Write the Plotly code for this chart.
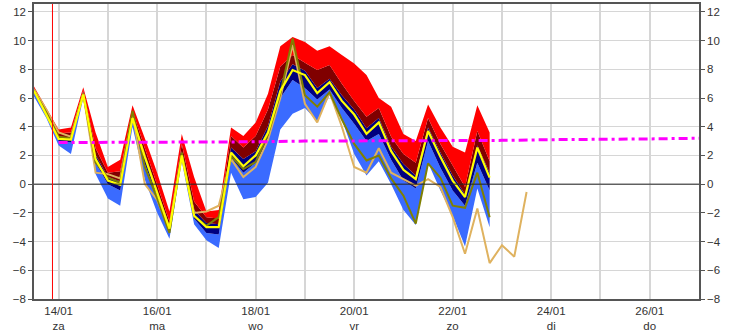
import pandas as pd
import plotly.graph_objects as go

# 6-hourly ensemble time axis (starts 13/01 12:00)
start = "2017-01-13 12:00"
n_main = 38
n_oper = 41
times = pd.date_range(start, periods=n_oper, freq="6h")
t_main = times[:n_main]

# ensemble band boundaries (top -> bottom)
top = [6.8, 5.3, 3.8, 3.95, 6.75, 3.6, 1.2, 1.7, 5.5, 3.2, 0.8, -1.9, 3.5, 0.5, -1.9, -1.8,
       3.95, 3.35, 4.3, 6.3, 9.6, 10.25, 9.9, 9.3, 9.6, 9.0, 8.4, 7.6, 6.0, 5.4, 3.5, 3.0,
       5.55, 3.95, 2.6, 2.2, 5.5, 3.6]
b1 = [6.7, 5.1, 3.55, 3.6, 6.55, 2.5, 0.8, 0.9, 5.1, 2.5, 0.0, -2.6, 2.8, -1.2, -2.3, -2.4,
      3.35, 2.55, 3.35, 5.2, 8.2, 9.0, 8.45, 7.95, 8.3, 7.0, 5.8, 4.7, 5.3, 3.3, 2.1, 1.5,
      4.6, 2.8, 1.3, -0.2, 3.7, 1.6]
b2 = [6.6, 4.95, 3.3, 3.25, 6.4, 2.05, 0.5, 0.2, 4.8, 2.1, -0.4, -2.9, 2.3, -1.8, -2.7, -2.8,
      2.55, 1.75, 2.3, 4.05, 7.15, 8.35, 7.9, 6.7, 7.35, 6.2, 5.2, 3.9, 4.6, 2.6, 1.4, 0.6,
      3.95, 2.2, 0.6, -0.7, 2.7, 0.8]
b3 = [6.4, 4.8, 3.0, 2.9, 6.15, 1.5, 0.0, -0.45, 4.4, 1.4, -0.9, -3.4, 1.9, -2.4, -3.4, -3.5,
      1.85, 0.8, 1.5, 3.0, 6.0, 7.25, 6.7, 5.9, 6.6, 5.3, 4.2, 3.0, 3.5, 1.7, 0.25, -0.3,
      3.0, 1.15, -0.45, -1.5, 1.5, -0.45]
bottom = [6.1, 4.6, 2.7, 2.1, 6.0, 0.7, -1.0, -1.5, 4.0, 0.3, -2.0, -3.8, 1.6, -2.8, -3.9, -4.45,
          0.8, -1.05, -0.9, 0.1, 3.8, 4.9, 5.3, 4.4, 6.2, 4.5, 2.1, 0.6, 1.6, 0.0, -1.8, -2.85,
          1.5, -0.45, -2.2, -4.35, -0.3, -3.0]

# single runs
yellow = [6.5, 4.85, 3.15, 3.1, 6.25, 1.75, 0.25, -0.05, 4.6, 1.9, -0.6, -3.1, 2.0, -2.2, -3.0, -3.0,
          2.2, 1.25, 2.0, 3.6, 6.5, 7.95, 7.6, 6.35, 7.1, 5.8, 4.85, 3.5, 4.3, 2.3, 1.0, 0.35,
          3.7, 1.9, 0.25, -0.9, 2.55, 0.45]
olive = [6.5, 5.0, 3.3, 3.2, 6.3, 1.5, 0.45, 0.1, 5.1, 1.2, -1.0, -3.4, 2.2, -2.2, -2.9, -2.3,
         1.95, 1.05, 1.55, 3.45, 6.3, 10.15, 6.2, 5.4, 6.4, 4.5, 2.8, 1.65, 2.0, 0.4, -0.8, -2.75,
         1.45, 0.45, -1.5, -1.65, 0.8, -2.3]
tan = [6.6, 5.2, 3.6, 3.3, 6.3, 0.8, 0.7, 0.4, 4.9, 0.0, -1.1, -3.2, 2.0, -2.0, -1.9, -1.5,
       1.75, 0.5, 1.2, 3.1, 6.0, 9.7, 5.6, 4.3, 6.4, 4.0, 1.2, 0.8, 2.5, 0.8, 0.35, -0.1,
       0.35, -0.2, -2.3, -4.85, -1.7, -5.5, -4.25, -5.05, -0.55]

# climate reference line (daily)
clim_days = pd.date_range("2017-01-14", "2017-01-27", freq="D")
clim = [2.9, 2.9, 2.95, 2.95, 2.95, 3.0, 3.0, 3.0, 3.0, 3.05, 3.1, 3.1, 3.15, 3.2]

# axis ticks
tick_days = pd.date_range("2017-01-14", "2017-01-26", freq="D")
tick_text = ["14/01<br>za", "", "16/01<br>ma", "", "18/01<br>wo", "", "20/01<br>vr", "",
             "22/01<br>zo", "", "24/01<br>di", "", "26/01<br>do"]
y_ticks = [-8, -6, -4, -2, 0, 2, 4, 6, 8, 10, 12]
now_marker = "2017-01-13 21:00"

C_RED, C_MAROON, C_NAVY, C_BLUE = "#ff0000", "#800000", "#000080", "#3a6bff"

fig = go.Figure()
fig.add_trace(go.Scatter(x=t_main, y=bottom, mode="lines", line=dict(width=0, color=C_BLUE)))
for arr, col in [(b3, C_BLUE), (b2, C_NAVY), (b1, C_MAROON), (top, C_RED)]:
    fig.add_trace(go.Scatter(x=t_main, y=arr, mode="lines", line=dict(width=0, color=col),
                             fill="tonexty", fillcolor=col))
fig.add_trace(go.Scatter(x=times, y=tan, mode="lines", line=dict(width=2, color="#dfb25f")))
fig.add_trace(go.Scatter(x=t_main, y=olive, mode="lines", line=dict(width=2, color="#808000")))
fig.add_trace(go.Scatter(x=t_main, y=yellow, mode="lines", line=dict(width=2.2, color="#ffff00")))
fig.add_trace(go.Scatter(x=clim_days, y=clim, mode="lines",
                         line=dict(width=3, color="#ff00ff", dash="9px,4px,3px,4px")))
fig.add_trace(go.Scatter(x=[times[0]], y=[0], yaxis="y2", mode="markers",
                         marker=dict(opacity=0), showlegend=False))

fig.add_shape(type="line", xref="paper", x0=0, x1=1, yref="y", y0=0, y1=0,
              line=dict(color="#222222", width=1), layer="above")
fig.add_shape(type="line", xref="x", x0=now_marker, x1=now_marker, yref="paper", y0=0, y1=1,
              line=dict(color="#ff0000", width=1), layer="above")

axis_font = dict(family="Liberation Sans, Arial, sans-serif", size=11.5, color="#333333")
yrange = [-8, 12.55]
fig.update_layout(
    width=732, height=336,
    margin=dict(l=34, r=33, t=2, b=37),
    paper_bgcolor="white", plot_bgcolor="white",
    showlegend=False, hovermode=False,
    font=axis_font,
    xaxis=dict(type="date", range=["2017-01-13 12:00", "2017-01-27 00:00"],
               tickmode="array", tickvals=tick_days, ticktext=tick_text,
               showgrid=True, gridcolor="#d6d6d6", gridwidth=1.5,
               showline=True, linecolor="#555555", linewidth=1.5, mirror=True,
               ticks="", tickfont=axis_font, zeroline=False),
    yaxis=dict(range=yrange, tickmode="array", tickvals=y_ticks,
               showgrid=True, gridcolor="#d6d6d6", gridwidth=1.2,
               showline=True, linecolor="#555555", linewidth=1.5,
               ticks="outside", ticklen=4, tickcolor="#555555",
               tickfont=axis_font, zeroline=False),
    yaxis2=dict(range=yrange, overlaying="y", side="right", tickmode="array", tickvals=y_ticks,
                showgrid=False, showline=True, linecolor="#555555", linewidth=1.5,
                ticks="outside", ticklen=4, tickcolor="#555555",
                tickfont=axis_font, zeroline=False),
)

fig.write_html("out.html")
